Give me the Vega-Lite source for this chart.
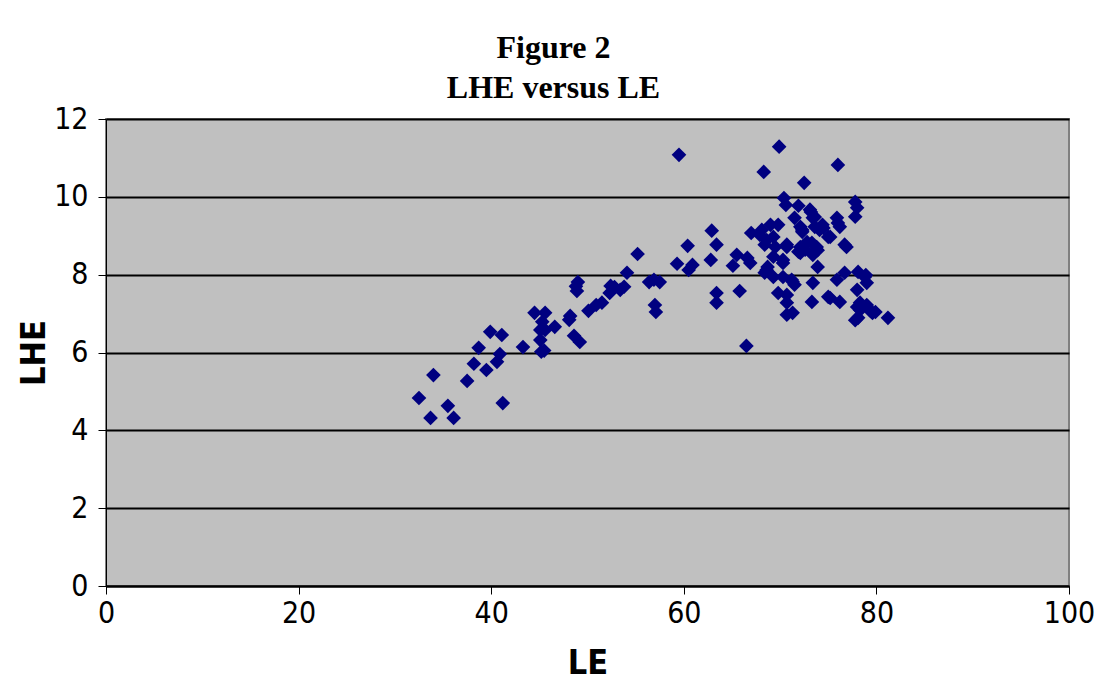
{
  "$schema": "https://vega.github.io/schema/vega-lite/v6.json",
  "autosize": "none",
  "width": 963,
  "height": 467,
  "padding": {"left": 106, "top": 119, "right": 43, "bottom": 108},
  "background": "white",
  "title": {
    "text": ["Figure 2", "LHE versus LE"],
    "font": "Liberation Serif",
    "fontWeight": "bold",
    "fontSize": 32,
    "lineHeight": 40,
    "color": "black",
    "anchor": "middle",
    "dx": -34,
    "offset": -26,
    "baseline": "alphabetic"
  },
  "config": {
    "view": {"fill": "#C0C0C0", "stroke": "#808080", "strokeWidth": 2},
    "axis": {
      "labelFont": "Liberation Sans Narrow, DejaVu Sans Condensed, Liberation Sans",
      "labelFontSize": 30,
      "labelColor": "black",
      "titleFont": "Liberation Sans Narrow, DejaVu Sans Condensed, Liberation Sans",
      "titleFontSize": 34,
      "titleFontWeight": "bold",
      "titleColor": "black",
      "tickColor": "black",
      "domainColor": "black"
    }
  },
  "data": {
    "values": [
      {"LE": 32.5, "LHE": 4.83}, {"LE": 33.7, "LHE": 4.32}, {"LE": 34.0, "LHE": 5.42}, {"LE": 35.5, "LHE": 4.63},
      {"LE": 36.1, "LHE": 4.32}, {"LE": 37.5, "LHE": 5.27}, {"LE": 38.2, "LHE": 5.71}, {"LE": 38.7, "LHE": 6.12},
      {"LE": 39.5, "LHE": 5.55}, {"LE": 39.9, "LHE": 6.53}, {"LE": 40.6, "LHE": 5.76}, {"LE": 40.9, "LHE": 5.96},
      {"LE": 41.1, "LHE": 6.45}, {"LE": 41.2, "LHE": 4.70}, {"LE": 43.3, "LHE": 6.14}, {"LE": 44.5, "LHE": 7.02},
      {"LE": 45.1, "LHE": 6.32}, {"LE": 45.2, "LHE": 6.02}, {"LE": 45.3, "LHE": 6.79}, {"LE": 45.6, "LHE": 6.58},
      {"LE": 45.6, "LHE": 7.02}, {"LE": 45.1, "LHE": 6.58}, {"LE": 46.6, "LHE": 6.66}, {"LE": 45.5, "LHE": 6.05},
      {"LE": 48.1, "LHE": 6.84}, {"LE": 48.2, "LHE": 6.94}, {"LE": 48.6, "LHE": 6.43}, {"LE": 49.2, "LHE": 6.27},
      {"LE": 48.9, "LHE": 7.58}, {"LE": 49.0, "LHE": 7.81}, {"LE": 48.8, "LHE": 7.70}, {"LE": 50.1, "LHE": 7.07},
      {"LE": 50.9, "LHE": 7.22}, {"LE": 51.5, "LHE": 7.28}, {"LE": 52.3, "LHE": 7.53}, {"LE": 52.4, "LHE": 7.71},
      {"LE": 52.8, "LHE": 7.68}, {"LE": 53.4, "LHE": 7.61}, {"LE": 53.8, "LHE": 7.69}, {"LE": 54.1, "LHE": 8.05},
      {"LE": 55.2, "LHE": 8.53}, {"LE": 56.4, "LHE": 7.81}, {"LE": 56.9, "LHE": 7.87}, {"LE": 57.0, "LHE": 7.22},
      {"LE": 57.1, "LHE": 7.04}, {"LE": 57.5, "LHE": 7.81}, {"LE": 59.3, "LHE": 8.28}, {"LE": 59.5, "LHE": 11.08},
      {"LE": 60.4, "LHE": 8.74}, {"LE": 60.9, "LHE": 8.25}, {"LE": 60.5, "LHE": 8.12}, {"LE": 62.9, "LHE": 9.13},
      {"LE": 62.8, "LHE": 8.38}, {"LE": 63.4, "LHE": 8.77}, {"LE": 63.4, "LHE": 7.53}, {"LE": 63.4, "LHE": 7.28},
      {"LE": 65.1, "LHE": 8.23}, {"LE": 65.5, "LHE": 8.51}, {"LE": 65.8, "LHE": 7.58}, {"LE": 66.6, "LHE": 8.43},
      {"LE": 66.9, "LHE": 8.30}, {"LE": 66.5, "LHE": 6.17}, {"LE": 67.0, "LHE": 9.07}, {"LE": 68.1, "LHE": 9.15},
      {"LE": 68.4, "LHE": 8.77}, {"LE": 68.7, "LHE": 8.20}, {"LE": 68.4, "LHE": 8.05}, {"LE": 69.0, "LHE": 9.28},
      {"LE": 69.8, "LHE": 9.28}, {"LE": 69.9, "LHE": 11.29}, {"LE": 68.3, "LHE": 10.64}, {"LE": 72.5, "LHE": 10.36},
      {"LE": 76.0, "LHE": 10.82}, {"LE": 70.4, "LHE": 9.97}, {"LE": 70.6, "LHE": 9.79}, {"LE": 71.9, "LHE": 9.77},
      {"LE": 73.2, "LHE": 9.61}, {"LE": 71.5, "LHE": 9.46}, {"LE": 67.9, "LHE": 9.02}, {"LE": 68.6, "LHE": 8.89},
      {"LE": 69.3, "LHE": 8.97}, {"LE": 69.5, "LHE": 8.71}, {"LE": 70.7, "LHE": 8.77}, {"LE": 72.3, "LHE": 9.10},
      {"LE": 72.1, "LHE": 8.71}, {"LE": 73.3, "LHE": 8.82}, {"LE": 69.3, "LHE": 8.46}, {"LE": 70.3, "LHE": 8.38},
      {"LE": 68.6, "LHE": 8.12}, {"LE": 69.3, "LHE": 7.94}, {"LE": 70.3, "LHE": 7.94}, {"LE": 71.2, "LHE": 7.87},
      {"LE": 71.5, "LHE": 7.74}, {"LE": 69.8, "LHE": 7.53}, {"LE": 70.7, "LHE": 7.48}, {"LE": 73.4, "LHE": 7.79},
      {"LE": 73.3, "LHE": 7.30}, {"LE": 70.7, "LHE": 7.28}, {"LE": 70.7, "LHE": 6.97}, {"LE": 71.3, "LHE": 7.02},
      {"LE": 77.8, "LHE": 9.87}, {"LE": 78.0, "LHE": 9.72}, {"LE": 77.8, "LHE": 9.49}, {"LE": 73.4, "LHE": 9.46},
      {"LE": 76.0, "LHE": 9.33}, {"LE": 74.1, "LHE": 9.15}, {"LE": 75.0, "LHE": 8.97}, {"LE": 76.7, "LHE": 8.77},
      {"LE": 72.8, "LHE": 8.84}, {"LE": 73.8, "LHE": 8.71}, {"LE": 73.4, "LHE": 8.51}, {"LE": 73.9, "LHE": 8.20},
      {"LE": 75.9, "LHE": 7.87}, {"LE": 76.7, "LHE": 8.05}, {"LE": 78.1, "LHE": 8.07}, {"LE": 78.8, "LHE": 7.94},
      {"LE": 75.0, "LHE": 7.43}, {"LE": 76.2, "LHE": 7.30}, {"LE": 79.0, "LHE": 7.79}, {"LE": 78.0, "LHE": 7.61},
      {"LE": 78.0, "LHE": 7.17}, {"LE": 79.0, "LHE": 7.22}, {"LE": 78.1, "LHE": 6.89}, {"LE": 79.5, "LHE": 7.04},
      {"LE": 75.2, "LHE": 7.40}, {"LE": 78.3, "LHE": 7.28}, {"LE": 79.3, "LHE": 7.09}, {"LE": 79.6, "LHE": 7.02},
      {"LE": 81.2, "LHE": 6.89}, {"LE": 75.2, "LHE": 8.97}, {"LE": 72.1, "LHE": 9.23}, {"LE": 73.6, "LHE": 9.23},
      {"LE": 73.1, "LHE": 9.67}, {"LE": 74.4, "LHE": 9.28}, {"LE": 72.6, "LHE": 8.64}, {"LE": 73.8, "LHE": 8.64},
      {"LE": 71.9, "LHE": 8.59}, {"LE": 71.3, "LHE": 7.82}, {"LE": 75.9, "LHE": 9.46}, {"LE": 76.2, "LHE": 9.23},
      {"LE": 76.9, "LHE": 8.71}, {"LE": 78.9, "LHE": 7.99}, {"LE": 78.3, "LHE": 7.09}, {"LE": 77.8, "LHE": 6.83},
      {"LE": 79.9, "LHE": 7.04}, {"LE": 73.9, "LHE": 8.63}, {"LE": 72.1, "LHE": 8.56}, {"LE": 72.3, "LHE": 9.15},
      {"LE": 74.5, "LHE": 9.20}, {"LE": 73.6, "LHE": 9.48}, {"LE": 70.3, "LHE": 8.30}, {"LE": 70.7, "LHE": 8.71}
    ]
  },
  "mark": {"type": "point", "shape": "diamond", "filled": true, "size": 215, "color": "#000080", "opacity": 1},
  "encoding": {
    "x": {
      "field": "LE", "type": "quantitative", "title": "LE",
      "scale": {"domain": [0, 100], "nice": false, "zero": false},
      "axis": {"values": [0, 20, 40, 60, 80, 100], "grid": false, "tickSize": 8, "labelPadding": 4, "titlePadding": 18, "domainWidth": 2, "labelFlush": false}
    },
    "y": {
      "field": "LHE", "type": "quantitative", "title": "LHE",
      "scale": {"domain": [0, 12], "nice": false, "zero": false},
      "axis": {"values": [0, 2, 4, 6, 8, 10, 12], "grid": true, "gridColor": "black", "gridWidth": 2, "gridOpacity": 1, "tickSize": 8, "labelPadding": 10, "titlePadding": 2, "labelFlush": false}
    }
  }
}
